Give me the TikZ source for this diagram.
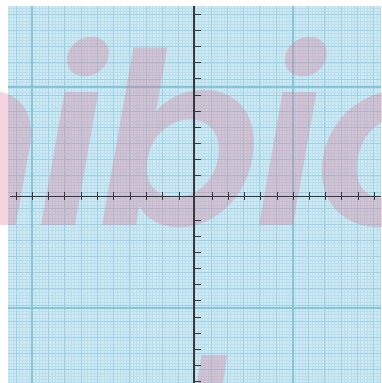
\documentclass[tikz,border=0pt]{standalone}
\usepackage{fontspec}
\newfontfamily\wmfont{Poppins SemiBold Italic}[LetterSpace=-2.5]
\definecolor{paper}{RGB}{206,234,244}
\definecolor{fineline}{RGB}{186,222,236}
\definecolor{medline}{RGB}{160,208,228}
\definecolor{heavyline}{RGB}{135,196,218}
\definecolor{wmpink}{RGB}{222,110,140}
\definecolor{axiscol}{RGB}{55,55,60}
\tikzset{
  fine/.style={draw=fineline, line width=0.45pt},
  med/.style={draw=medline, line width=0.8pt},
  heavy/.style={draw=heavyline, line width=1.8pt},
  wm/.style={fill=wmpink, fill opacity=0.3, text opacity=0.3, text=wmpink},
  axisline/.style={draw=axiscol, line width=1.3pt},
  tickmark/.style={draw=axiscol, line width=1pt}
}
\begin{document}
\begin{tikzpicture}[x=1pt,y=-1pt]
\useasboundingbox (0,0) rectangle (381,383);
\clip (0,0) rectangle (381,383);
\fill[white] (0,0) rectangle (381,383);
% graph paper
\fill[paper] (8,6) rectangle (381,383);
\begin{scope}
\clip (8,6) rectangle (381,383);
\foreach \j in {-2,...,112} \draw[fine] ({16+\j*3.25},6) -- ({16+\j*3.25},383);
\foreach \j in {-2,...,114} \draw[fine] (8,{14.3+\j*3.23}) -- (381,{14.3+\j*3.23});
\foreach \k in {0,...,22} \draw[med] ({16+\k*16.25},6) -- ({16+\k*16.25},383);
\foreach \k in {0,...,23} \draw[med] (8,{14.3+\k*16.15}) -- (381,{14.3+\k*16.15});
\foreach \x in {32,293} \draw[heavy] (\x,6) -- (\x,383);
\foreach \y in {87,308} \draw[heavy] (8,\y) -- (381,\y);
\end{scope}
% watermark
\node[text=wmpink, text opacity=0.3, anchor=base west, inner sep=0pt] (wmtext) at (-115,225)
  {\wmfont\fontsize{240}{240}\selectfont nibio};
\fill[wm, draw=none] (201.7,355) -- (227,355) -- (223,383) -- (197,383) -- cycle;
% axes
\coordinate (xl) at (10,196.5);
\coordinate (xr) at (381,196.5);
\coordinate (yt) at (194,6);
\coordinate (yb) at (194,383);
\draw[axisline] (xl) -- (xr);
\draw[axisline] (yt) -- (yb);
\foreach \k in {0,...,10} {
  \draw[tickmark] ({16+\k*16.3},192) -- ({16+\k*16.3},200);
  \draw[tickmark] ({212.3+\k*16.2},192) -- ({212.3+\k*16.2},200);
  \draw[tickmark] (194,{14.3+\k*16.14}) -- (201,{14.3+\k*16.14});
  \draw[tickmark] (194,{220+\k*16.17}) -- (201,{220+\k*16.17});
}
\end{tikzpicture}
\end{document}
